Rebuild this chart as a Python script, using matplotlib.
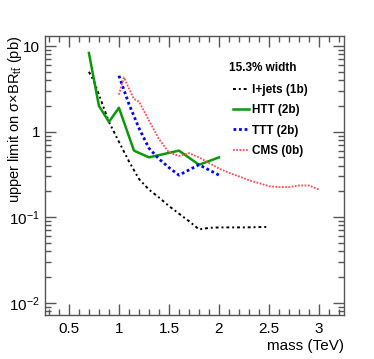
import matplotlib.pyplot as plt
from matplotlib.ticker import FixedLocator, FuncFormatter, LogLocator, NullFormatter

plt.rcParams['font.family'] = ['Liberation Sans', 'DejaVu Sans']
plt.rcParams['mathtext.default'] = 'regular'

# l+jets (1b)
ljets_mass = [0.7, 0.75, 0.8, 0.9, 1.0, 1.1, 1.2, 1.3, 1.4, 1.5, 1.6, 1.7, 1.8, 1.9, 2.0, 2.25, 2.5]
ljets_lim = [5.0, 3.9, 2.7, 1.3, 0.76, 0.45, 0.28, 0.21, 0.17, 0.135, 0.11, 0.09, 0.072, 0.075, 0.076, 0.076, 0.077]

# HTT (2b)
htt_mass = [0.7, 0.8, 0.9, 1.0, 1.15, 1.3, 1.6, 1.8, 2.0]
htt_lim = [8.3, 2.0, 1.3, 1.9, 0.6, 0.5, 0.6, 0.41, 0.5]

# TTT (2b)
ttt_mass = [1.0, 1.1, 1.2, 1.3, 1.4, 1.5, 1.6, 1.8, 2.0]
ttt_lim = [4.5, 2.1, 1.1, 0.64, 0.48, 0.38, 0.31, 0.41, 0.31]

# CMS (0b)
cms_mass = [1.0, 1.05, 1.1, 1.15, 1.2, 1.3, 1.4, 1.5, 1.6, 1.7, 1.8, 1.9, 2.0, 2.1, 2.2,
            2.3, 2.4, 2.5, 2.6, 2.7, 2.8, 2.9, 3.0]
cms_lim = [2.7, 4.3, 3.2, 2.4, 2.25, 1.35, 0.82, 0.57, 0.52, 0.56, 0.5, 0.43, 0.37, 0.33, 0.3,
           0.27, 0.25, 0.23, 0.225, 0.225, 0.235, 0.235, 0.21]

fig = plt.figure(figsize=(3.74, 3.59), dpi=100)
ax = fig.add_axes([0.120, 0.1226, 0.800, 0.7771])

ax.plot(ljets_mass, ljets_lim, color='black', lw=1.4, ls=(0, (1.5, 1.5, 1, 1.5)), label='l+jets (1b)')
ax.plot(htt_mass, htt_lim, color='#0a990a', lw=1.8, label='HTT (2b)')
ax.plot(ttt_mass, ttt_lim, color='#0000ff', lw=2, ls=(0, (1, 1)), label='TTT (2b)')
ax.plot(cms_mass, cms_lim, color='#ff4d4d', lw=1.3, ls=(0, (1, 0.8)), label='CMS (0b)')

ax.set_yscale('log')
ax.set_xlim(0.26, 3.25)
ax.set_ylim(0.0072, 13.1)

ax.xaxis.set_major_locator(FixedLocator([0.5, 1, 1.5, 2, 2.5, 3]))
ax.xaxis.set_minor_locator(FixedLocator([i / 10 for i in range(3, 33)]))
ax.xaxis.set_major_formatter(FuncFormatter(lambda v, p: '%g' % v))

ylabels = {10: '10', 1: '1', 0.1: '$10^{-1}$', 0.01: '$10^{-2}$'}
ax.yaxis.set_major_locator(FixedLocator([0.01, 0.1, 1, 10]))
ax.yaxis.set_major_formatter(FuncFormatter(lambda v, p: ylabels.get(round(v, 4), '')))
ax.yaxis.set_minor_locator(LogLocator(base=10, subs=range(2, 10), numticks=20))
ax.yaxis.set_minor_formatter(NullFormatter())

frame = '#555555'
for s in ax.spines.values():
    s.set_color(frame)
    s.set_linewidth(1)
ax.tick_params(which='both', direction='in', top=True, right=True, color=frame, labelsize=11)
ax.tick_params(which='major', length=8, width=1)
ax.tick_params(which='minor', length=4, width=1)
ax.tick_params(axis='x', pad=5)

ax.set_xlabel('mass (TeV)', fontsize=11, loc='right', labelpad=2)
ax.set_ylabel(r'upper limit on σ×BR$_{t\bar{t}}$ (pb)', fontsize=10.5, loc='top', va='center')
ax.yaxis.set_label_coords(-0.10, 1.0)

ax.text(0.729, 0.885, '15.3% width', transform=ax.transAxes, fontsize=8.5,
        fontweight='bold', ha='center', va='center')
leg = ax.legend(loc='upper left', bbox_to_anchor=(0.63, 0.828), frameon=False,
                prop={'size': 8.5, 'weight': 'bold'}, handlelength=1.3, handletextpad=0.3,
                labelspacing=0.7, borderpad=0, borderaxespad=0)

fig.savefig('out.png', dpi=100)
